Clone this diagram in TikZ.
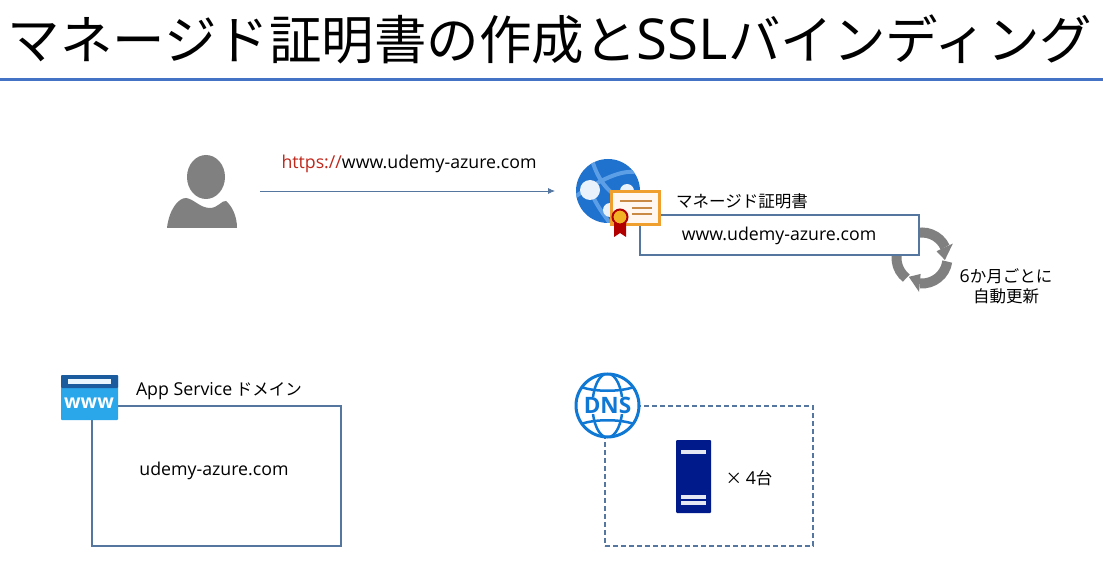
\documentclass[tikz,border=0pt]{standalone}
\usepackage{fontspec}
\setmainfont{Noto Sans CJK JP}
\newfontfamily\latinfont[Scale=1.075]{Open Sans}
\usetikzlibrary{arrows.meta,calc}
\definecolor{boxblue}{HTML}{54769F}
\definecolor{ruleblue}{HTML}{4472C4}
\definecolor{icongray}{HTML}{808080}
\definecolor{globeblue}{HTML}{1F72CE}
\definecolor{bandblue}{HTML}{5C9FE6}
\definecolor{certorange}{HTML}{EE9F2E}
\definecolor{certbrown}{HTML}{C98A45}
\definecolor{dnsblue}{HTML}{0F78D4}
\definecolor{serverblue}{HTML}{001A8C}
\definecolor{wwwtop}{HTML}{1B5C9E}
\definecolor{wwwbody}{HTML}{2AA6EA}
\definecolor{urlred}{HTML}{C0281C}
\newcommand{\lat}[1]{{\latinfont #1}}
\tikzset{
  bodytext/.style={font=\fontsize{16.5}{20}\selectfont,inner sep=0pt},
  framebox/.style={draw=boxblue,line width=1.1pt,inner sep=0pt},
  iconbox/.style={inner sep=0pt,outer sep=0pt},
  flow/.style={draw=boxblue,line width=.8pt,shorten <=23pt,shorten >=21pt,-{Latex[length=7pt,width=6pt]}},
}
\begin{document}
\begin{tikzpicture}[x=1pt,y=-1pt]

      \useasboundingbox[fill=white] (0,0) rectangle (1103,569);

      \node[iconbox,font=\fontsize{52.5}{60}\selectfont] (title) at (550,39) {マネージド証明書の作成と\lat{SSL}バインディング};
      \draw[ruleblue,line width=3pt] (0,80) -- (1103,80);

      \foreach \a in {0,120,240} {
        \draw[icongray,line width=10pt] (922,258) ++(\a-112:25.5) arc[start angle=\a-112,end angle=\a-25,radius=25.5];
        \fill[icongray] ($(922,258)+(\a-25:34)$) -- ($(922,258)+(\a+5:23)$) -- ($(922,258)+(\a-25:16)$) -- cycle;
      }

      \begin{scope}[every node/.style={framebox}]
        \node[fill=white,minimum width=279pt,minimum height=40pt] (certbox) at (779.5,235) {};
        \node[minimum width=249pt,minimum height=140pt] (domainbox) at (216.5,476) {};
        \node[dash pattern=on 5pt off 3pt,minimum width=208pt,minimum height=140pt] (dnsbox) at (709,476) {};
      \end{scope}

      \begin{scope}[every node/.style={bodytext}]
        \node (url) at (409,163.5) {\lat{\textcolor{urlred}{https://}www.udemy-azure.com}};
        \node (certlabel) at (742,201) {マネージド証明書};
        \node (certname) at (779,235.5) {\lat{www.udemy-azure.com}};
        \node[align=center] (renew) at (1006,286) {\lat{6}か月ごとに\\自動更新};
        \node (domainlabel) at (219,391) {\lat{App Service} ドメイン};
        \node (domainname) at (214,470.5) {\lat{udemy-azure.com}};
        \node (count) at (749,478) {× \lat{4}台};
      \end{scope}

      \node[iconbox,minimum width=70pt,minimum height=74pt] (user) at (202,191) {};
      \fill[icongray] (206,177) ellipse[x radius=19,y radius=22];
      \fill[icongray] (167,228) .. controls (169,210) and (178,198) .. (186,198)
        .. controls (194,199) and (200,208) .. (210,208)
        .. controls (218,208) and (222,200) .. (226,201)
        .. controls (232,206) and (237,216) .. (237,228) -- cycle;

      \node[iconbox,circle,fill=globeblue,minimum size=64pt] (site) at (608,191) {};
      \draw[flow] (user) -- (site);
      \begin{scope}
        \clip (608,191) circle[radius=32];
        \draw[bandblue,line width=4pt] (592,160) .. controls (598,180) and (610,200) .. (640,205);
        \draw[bandblue,line width=4pt] (576,196) .. controls (600,180) and (620,170) .. (636,172);
        \draw[bandblue,line width=4pt] (590,190) .. controls (596,205) and (604,215) .. (612,226);
      \end{scope}
      \fill[white!90!globeblue] (590,190) circle[radius=10];
      \fill[white!90!globeblue] (627,191) circle[radius=7];
      \fill[white!90!globeblue] (610,210) circle[radius=7];

      \node[iconbox,draw=certorange,fill=orange!6,line width=3pt,minimum width=48pt,minimum height=33pt] (cert) at (635.5,208) {};
      \draw[certbrown,line width=1.5pt] (620,201) -- (652,201);
      \draw[certbrown,line width=1.5pt] (632,208) -- (652,208);
      \draw[certbrown,line width=1.5pt] (632,214) -- (652,214);
      \fill[red!70!black] (614,221) -- (626,221) -- (626,237) -- (620,233) -- (614,237) -- cycle;
      \node[iconbox,circle,draw=red!70!black,fill=certorange!80!yellow,line width=2pt,minimum size=15pt] (seal) at (620,217) {};

      \node[iconbox,rounded corners=1pt,fill=wwwbody,minimum width=57pt,minimum height=45pt] (www) at (89.5,397.5) {};
      \fill[wwwtop,rounded corners=1pt] (61,388) rectangle (118,375);
      \fill[white!90!wwwbody] (68,379) rectangle (111,384);
      \node[iconbox,text=white,font=\fontsize{18}{20}\bfseries\selectfont] (wwwtext) at (89,403) {\lat{www}};

      \node[iconbox,circle,draw=dnsblue,fill=white,line width=3pt,minimum size=63pt] (dns) at (607.5,405.5) {};
      \begin{scope}
        \clip (607.5,405.5) circle[radius=32];
        \draw[dnsblue,line width=2.5pt] (607.5,405.5) ellipse[x radius=15,y radius=32];
        \draw[dnsblue,line width=2.5pt] (581,387) .. controls (595,392) and (620,392) .. (634,387);
        \draw[dnsblue,line width=2.5pt] (581,424) .. controls (595,419) and (620,419) .. (634,424);
      \end{scope}
      \node[iconbox,fill=white,text=dnsblue,font=\fontsize{21}{24}\bfseries\selectfont,inner xsep=1pt] (dnstext) at (607.5,405.5) {\lat{DNS}};

      \node[iconbox,rounded corners=1pt,fill=serverblue,minimum width=35pt,minimum height=73pt] (server) at (693.5,476.5) {};
      \foreach \y in {452,497,503}
        \fill[white!90!serverblue] (681,\y-2) rectangle (706,\y+2);

    \end{tikzpicture}
\end{document}
